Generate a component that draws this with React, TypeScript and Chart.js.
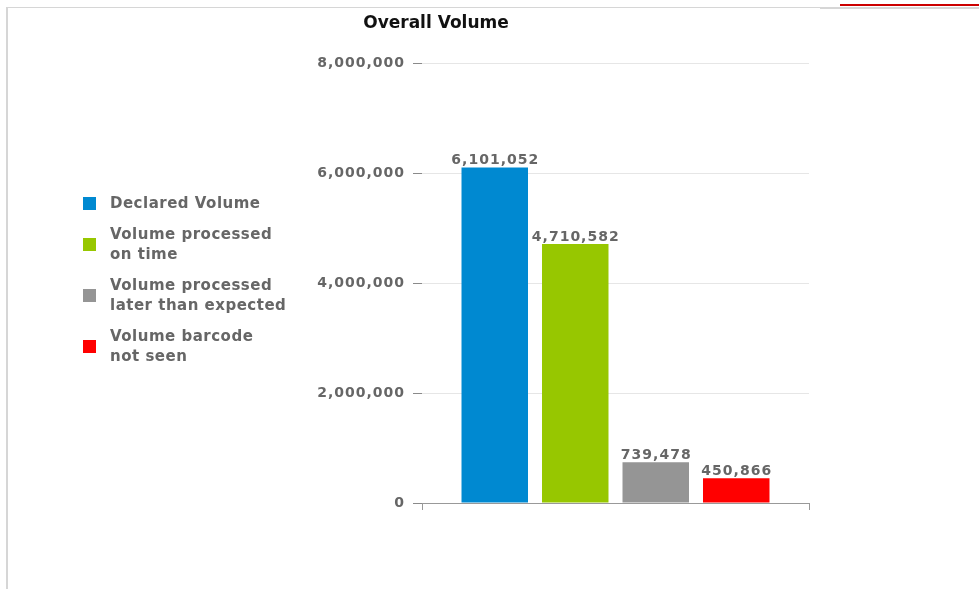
import React, { useEffect, useRef } from "react";
import { Chart, registerables } from "chart.js";

Chart.register(...registerables);

const chartTitle = "Overall Volume";
const categories = ["Overall Volume"];
const seriesNames = [
  "Declared Volume",
  "Volume processed on time",
  "Volume processed later than expected",
  "Volume barcode not seen",
];
const legendLines = [
  ["Declared Volume"],
  ["Volume processed", "on time"],
  ["Volume processed", "later than expected"],
  ["Volume barcode", "not seen"],
];
const seriesValues = [6101052, 4710582, 739478, 450866];
const seriesColors = ["#0089d1", "#97c700", "#959595", "#ff0000"];
const yTicks = [0, 2000000, 4000000, 6000000, 8000000];

const fmt = (v: number) => String(Math.round(v)).replace(/\B(?=(\d{3})+(?!\d))/g, ",");

const TEXT_GRAY = "#666666";

const valueLabels = {
  id: "valueLabels",
  beforeDraw(chart: any) {
    chart.ctx.letterSpacing = "1px";
  },
  afterDatasetsDraw(chart: any) {
    const ctx = chart.ctx;
    ctx.save();
    ctx.font = 'bold 14px "DejaVu Sans"';
    ctx.fillStyle = TEXT_GRAY;
    ctx.textAlign = "center";
    ctx.textBaseline = "alphabetic";
    chart.data.datasets.forEach((ds: any, i: number) => {
      const meta = chart.getDatasetMeta(i);
      meta.data.forEach((bar: any, j: number) => {
        ctx.fillText(fmt(ds.data[j]), bar.x + 0.5, bar.y - 3);
      });
    });
    ctx.restore();
  },
};

export default function App() {
  const canvasRef = useRef<HTMLCanvasElement | null>(null);

  useEffect(() => {
    if (!canvasRef.current) return;
    const chart = new Chart(canvasRef.current, {
      type: "bar",
      data: {
        labels: categories,
        datasets: seriesNames.map((name, i) => ({
          label: name,
          data: [seriesValues[i]],
          backgroundColor: seriesColors[i],
          borderWidth: 0,
          categoryPercentage: 0.832,
          barPercentage: 0.826,
        })),
      },
      options: {
        animation: false,
        responsive: false,
        maintainAspectRatio: false,
        layout: { padding: { top: 63, right: 170, bottom: 79, left: 0 } },
        plugins: {
          legend: { display: false },
          title: { display: false },
          tooltip: { enabled: false },
        },
        scales: {
          x: {
            ticks: { display: false },
            grid: {
              display: true,
              drawOnChartArea: false,
              drawTicks: true,
              tickLength: 7,
              color: "#999999",
              offset: true,
            },
            border: { display: true, color: "#999999", width: 1 },
          },
          y: {
            min: 0,
            max: 8000000,
            afterBuildTicks: (scale: any) => {
              scale.ticks = yTicks.map((v) => ({ value: v }));
            },
            afterFit: (scale: any) => {
              scale.width = 422;
            },
            ticks: {
              callback: (v: any) => fmt(Number(v)),
              font: { family: "DejaVu Sans", weight: "bold", size: 14 },
              color: TEXT_GRAY,
              padding: 8,
            },
            grid: {
              color: "#e6e6e6",
              tickColor: "#8a8a8a",
              tickLength: 9,
              lineWidth: 1,
            },
            border: { display: false },
          },
        },
      },
      plugins: [valueLabels],
    } as any);
    return () => chart.destroy();
  }, []);

  return (
    <div style={{ position: "absolute", left: 0, top: 0, width: 979, height: 589, background: "#fff", overflow: "hidden" }}>
      <div style={{ position: "absolute", left: 6, top: 7, width: 973, height: 1, background: "#d6d6d6" }} />
      <div style={{ position: "absolute", left: 820, top: 7, width: 159, height: 2, background: "#d6d6d6" }} />
      <div style={{ position: "absolute", left: 6, top: 7, width: 2, height: 582, background: "#d6d6d6" }} />
      <div style={{ position: "absolute", left: 840, top: 4, width: 139, height: 2, background: "#cc0000" }} />
      <canvas
        ref={canvasRef}
        width={979}
        height={589}
        style={{ position: "absolute", left: 0, top: 0, width: 979, height: 589 }}
      />
      <div
        style={{
          position: "absolute",
          left: 336,
          top: 12,
          width: 200,
          textAlign: "center",
          font: 'bold 17px "DejaVu Sans"',
          lineHeight: "20px",
          color: "#111",
          whiteSpace: "nowrap",
        }}
      >
        {chartTitle}
      </div>
      <div
        style={{
          position: "absolute",
          left: 83,
          top: 193,
          display: "flex",
          flexDirection: "column",
          gap: 10,
        }}
      >
        {legendLines.map((lines, i) => (
          <div key={i} style={{ display: "flex", alignItems: "center" }}>
            <div style={{ width: 13, height: 13, background: seriesColors[i], marginRight: 14, flex: "none" }} />
            <div
              style={{
                font: 'bold 15px "DejaVu Sans"',
                lineHeight: "20.5px",
                letterSpacing: "0.5px",
                color: TEXT_GRAY,
                whiteSpace: "nowrap",
              }}
            >
              {lines.map((l, k) => (
                <div key={k}>{l}</div>
              ))}
            </div>
          </div>
        ))}
      </div>
    </div>
  );
}
